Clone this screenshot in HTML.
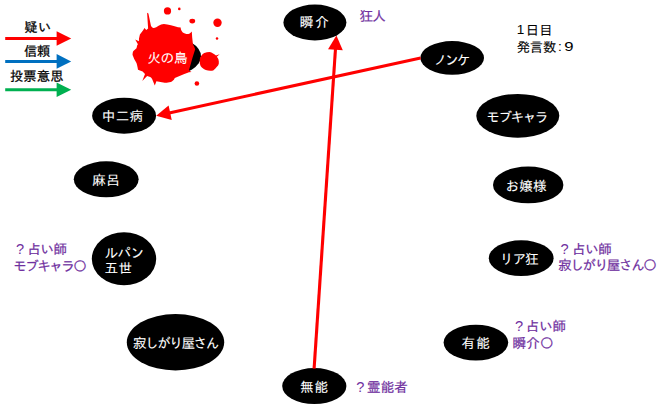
<!DOCTYPE html>
<html lang="ja">
<head>
<meta charset="utf-8">
<title>人狼 相関図 1日目</title>
<style>
html,body{margin:0;padding:0;background:#fff;}
body{width:660px;height:406px;overflow:hidden;position:relative;}
svg{position:absolute;left:0;top:0;display:block;}
text{font-family:"Liberation Sans","IPAGothic","Noto Sans CJK JP",sans-serif;font-weight:400;}
.w{fill:#fff;stroke:#fff;}
.k{fill:#000;stroke:#000;}
.p{fill:#7030a0;stroke:#7030a0;}
</style>
</head>
<body>
<svg width="660" height="406" viewBox="0 0 660 406">
  <rect x="0" y="0" width="660" height="406" fill="#fff"/>
  <g id="legend">
    <line x1="5.2" y1="38.5" x2="58" y2="38.5" stroke="#ff0000" stroke-width="3"/>
    <polygon points="56.6,31.2 71.2,38.5 56.6,45.8" fill="#ff0000"/>
    <line x1="5.2" y1="61.4" x2="58" y2="61.4" stroke="#0070c0" stroke-width="3"/>
    <polygon points="56.6,54.1 71.2,61.4 56.6,68.7" fill="#0070c0"/>
    <line x1="5.2" y1="89.7" x2="58" y2="89.7" stroke="#00b050" stroke-width="3"/>
    <polygon points="56.6,82.4 71.2,89.7 56.6,97" fill="#00b050"/>
  </g>
  <g id="nodes" fill="#000">
    <ellipse cx="169" cy="56.2" rx="32" ry="19"/>
    <ellipse cx="314.9" cy="22.5" rx="31.5" ry="17.9"/>
    <ellipse cx="452.2" cy="57.9" rx="31.8" ry="16.8"/>
    <ellipse cx="124.1" cy="115.7" rx="32" ry="18"/>
    <ellipse cx="517.8" cy="115.8" rx="41.5" ry="21.9"/>
    <ellipse cx="106.2" cy="179.3" rx="32.4" ry="18"/>
    <ellipse cx="528.2" cy="184.9" rx="35.2" ry="18.4"/>
    <ellipse cx="124" cy="258.8" rx="32.2" ry="26.5"/>
    <ellipse cx="521.2" cy="258.2" rx="32.4" ry="17.9"/>
    <ellipse cx="175.5" cy="342.3" rx="48.7" ry="28.2"/>
    <ellipse cx="475.9" cy="342.6" rx="32.3" ry="17.9"/>
    <ellipse cx="314.3" cy="386.1" rx="32.1" ry="18"/>
  </g>
  <g id="arrows" fill="#ff0000" stroke="none">
    <line x1="420.6" y1="58" x2="168" y2="113.2" stroke="#ff0000" stroke-width="3.1"/>
    <polygon points="156.2,115.8 168.59,105.51 171.75,119.97"/>
    <line x1="314.1" y1="368.6" x2="335.5" y2="48.5" stroke="#ff0000" stroke-width="3.1"/>
    <polygon points="336.4,35.5 328.06,49.27 342.82,50.26"/>
  </g>

  <g id="blood" fill="#ff0000">
    <path d="M147.1,12.7 L148.4,13.6 L150.9,25.6 C151.5,27.6 153,28.3 154,28 C157,27.4 160,24.2 163.9,24 C168,24 174,26.4 178,27.2 L180.7,27.6 C180.6,30.2 182.5,33.6 186.4,34 C188.6,34.2 190.6,33.2 191.8,31.4 L192.2,37.6 L192.9,43.7 C193.6,45.5 194.7,47.5 195.2,49.3 L192.5,57.7 L188.9,70.6 L191.6,72 L189,72.3 L183.7,74.3 L174.8,78 L173.9,79.7 C172.6,81 171.6,81.7 170.8,82 C168,82.8 166,82.8 164.7,82.7 L157.8,81.6 L156.4,81.3 L154.8,85.5 L152.1,78.9 C151.5,78 151,77.3 150.2,77 L147.1,76 L142.3,80.9 L145,74 L142.6,71.6 L138,69.7 L137.6,67.5 C137.3,66 137,64.5 136.5,62.9 L134.2,59 L133,56 C132.5,55 132.5,54.3 132.6,53.7 C132.7,52.5 133,51.6 133.4,51 L136.5,48.3 L137.2,45.3 L137.9,44.3 L135.2,39.4 L138.9,41.3 L139,38.4 L139.9,34.6 L143.3,30 L144.4,28.1 L146.3,30.1 L148.1,28.5 Z"/>
    <path d="M199.7,60.8 C199.8,58.5 200.5,57 201.5,55.6 C202.2,54.4 203.2,53.6 204.3,53 C206,52.2 207.8,51.9 209.5,51.9 C211.2,52.1 212.8,53 214,54.1 L216,55.6 L219.6,54.2 L216.8,56.8 C217.6,57.6 218.1,58.4 218.4,59.3 C218.8,60.7 219,62.2 218.8,63.7 C218.5,64.9 217.8,65.9 216.9,66.7 C215.8,68.2 214.6,69.5 213.2,70.4 C210.8,70.9 208.2,70.8 205.8,70 C203.6,69.2 201.8,67.8 200.6,66 C199.9,64.4 199.6,62.6 199.7,60.8 Z"/>
    <circle cx="167.5" cy="10.9" r="3.6"/>
    <circle cx="179.3" cy="8.9" r="1.3"/>
    <ellipse cx="192.3" cy="21.1" rx="2.9" ry="2.3"/>
    <circle cx="217.5" cy="22.7" r="4.2"/>
    <circle cx="217" cy="38.6" r="1.25"/>
    <circle cx="196.9" cy="83.5" r="2.3"/>
  </g>

  <g id="legend-labels">
    <text class="k" x="24.25" y="32.1" font-size="13.3" stroke-width="0.25" textLength="27.15" lengthAdjust="spacing">疑い</text>
    <text class="k" x="24.0" y="56.48" font-size="13.3" stroke-width="0.25" textLength="26.35" lengthAdjust="spacing">信頼</text>
    <text class="k" x="9.95" y="80.75" font-size="13.3" stroke-width="0.25" textLength="53.55" lengthAdjust="spacing">投票意思</text>
  </g>
  <g id="node-labels">
    <text class="w" x="147.15" y="62.5" font-size="13.6" stroke-width="0.08" textLength="40.35" lengthAdjust="spacing">火の鳥</text>
    <text class="w" x="299.85" y="27.3" font-size="13.6" stroke-width="0.08" textLength="29.05" lengthAdjust="spacing">瞬介</text>
    <text class="w" x="433.5" y="64.55" font-size="13.6" stroke-width="0.08" textLength="36.8" lengthAdjust="spacing">ノンケ</text>
    <text class="w" x="101.65" y="121.0" font-size="13.6" stroke-width="0.08" textLength="41.55" lengthAdjust="spacing">中二病</text>
    <text class="w" x="486.35" y="122.35" font-size="13.6" stroke-width="0.08" textLength="62.1" lengthAdjust="spacing">モブキャラ</text>
    <text class="w" x="92.15" y="184.7" font-size="13.6" stroke-width="0.08" textLength="27.75" lengthAdjust="spacing">麻呂</text>
    <text class="w" x="505.45" y="191.2" font-size="13.6" stroke-width="0.08" textLength="41.05" lengthAdjust="spacing">お嬢様</text>
    <text class="w" x="104.75" y="257.95" font-size="13.6" stroke-width="0.08" textLength="39.3" lengthAdjust="spacing">ルパン</text>
    <text class="w" x="104.5" y="273.45" font-size="13.6" stroke-width="0.08" textLength="27.55" lengthAdjust="spacing">五世</text>
    <text class="w" x="499.8" y="264.0" font-size="13.6" stroke-width="0.08" textLength="38.9" lengthAdjust="spacing">リア狂</text>
    <text class="w" x="132.95" y="347.9" font-size="13.6" stroke-width="0.08" textLength="86.4" lengthAdjust="spacing">寂しがり屋さん</text>
    <text class="w" x="461.6" y="348.1" font-size="13.6" stroke-width="0.08" textLength="28.3" lengthAdjust="spacing">有能</text>
    <text class="w" x="300.1" y="392.1" font-size="13.6" stroke-width="0.08" textLength="28.0" lengthAdjust="spacing">無能</text>
  </g>
  <g id="day-info">
    <text class="k" x="516.65" y="34.45" font-size="13.6" stroke-width="0">1</text>
    <text class="k" x="525.75" y="34.55" font-size="13.3" stroke-width="0.1" textLength="26.7" lengthAdjust="spacing">日目</text>
    <text class="k" x="516.65" y="51.5" font-size="13.3" stroke-width="0.1" textLength="39.7" lengthAdjust="spacing">発言数</text>
    <text class="k" x="557.98" y="51.35" font-size="13.6" stroke-width="0">:</text>
    <text class="k" x="564.2" y="50.85" font-size="12.6" stroke-width="0" textLength="9.3" lengthAdjust="spacingAndGlyphs">9</text>
  </g>
  <g id="notes">
    <text class="p" x="359.5" y="20.5" font-size="13.5" stroke-width="0.2" textLength="26.25" lengthAdjust="spacing">狂人</text>
    <text class="p" x="16.1" y="253.7" font-size="14.6" stroke-width="0">?</text>
    <text class="p" x="27.3" y="253.65" font-size="13.5" stroke-width="0.2" textLength="39.75" lengthAdjust="spacing">占い師</text>
    <text class="p" x="13.35" y="270.6" font-size="13.5" stroke-width="0.2" textLength="73.5" lengthAdjust="spacing">モブキャラ〇</text>
    <text class="p" x="560.45" y="253.5" font-size="14.6" stroke-width="0">?</text>
    <text class="p" x="571.9" y="253.55" font-size="13.5" stroke-width="0.2" textLength="39.95" lengthAdjust="spacing">占い師</text>
    <text class="p" x="558.15" y="270.3" font-size="13.5" stroke-width="0.2" textLength="98.7" lengthAdjust="spacing">寂しがり屋さん〇</text>
    <text class="p" x="514.9" y="331.25" font-size="14.6" stroke-width="0">?</text>
    <text class="p" x="525.75" y="331.1" font-size="13.5" stroke-width="0.2" textLength="40.3" lengthAdjust="spacing">占い師</text>
    <text class="p" x="512.4" y="347.9" font-size="13.5" stroke-width="0.2" textLength="41.1" lengthAdjust="spacing">瞬介〇</text>
    <text class="p" x="356.25" y="392.15" font-size="14.6" stroke-width="0">?</text>
    <text class="p" x="367.1" y="392.2" font-size="13.5" stroke-width="0.2" textLength="40.65" lengthAdjust="spacing">霊能者</text>
  </g>
</svg>
</body>
</html>
